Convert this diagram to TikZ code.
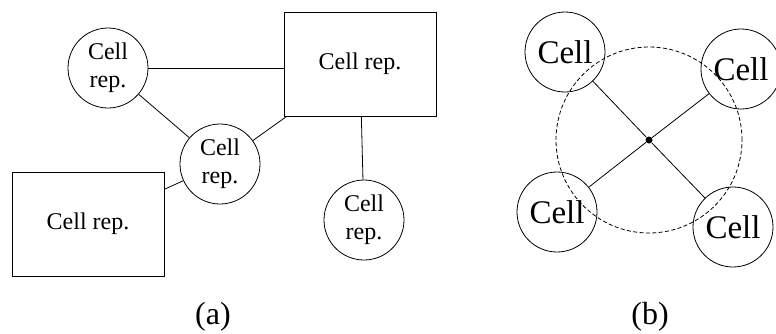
\documentclass[tikz,border=0pt]{standalone}
\usepackage{fontspec}
\setmainfont{Liberation Serif}
\begin{document}
\begin{tikzpicture}[x=0.5pt,y=-0.5pt,
  cellrep/.style={draw,circle,minimum size=40pt,inner sep=0pt,align=center,font=\fontsize{12}{14.2}\selectfont},
  cellbox/.style={draw,rectangle,minimum width=76pt,minimum height=52pt,font=\fontsize{12}{14.2}\selectfont},
  cell/.style={draw,circle,minimum size=40pt,inner sep=0pt,font=\fontsize{16.5}{20}\selectfont},
  caption/.style={font=\fontsize{16}{19}\selectfont}]
\useasboundingbox (0,0) rectangle (776,333);

% Draw part (a): representatives and their links
\node[cellrep] (repa) at (108,68) {Cell\\rep.};
\node[cellbox] (boxa) at (360,64) {Cell rep.};
\node[cellrep] (repb) at (220,164) {Cell\\rep.};
\node[cellbox] (boxb) at (88,224) {Cell rep.};
\node[cellrep] (repc) at (364,220) {Cell\\rep.};

\draw (repa.east) -- (repa.east -| boxa.west);
\draw (repa) -- (repb);
\draw (repb) -- (boxa);
\draw (repb) -- (boxb);
\draw (boxa) -- (repc);

% Draw part (b): cells round a common centre
\node[circle,fill,inner sep=0pt,minimum size=3.5pt] (hub) at (649,140) {};
\draw[dash pattern=on 2pt off 1.2pt] (hub.center) circle (46.5pt);

\node[cell] (nw) at (565,52) {Cell};
\node[cell] (ne) at (741,69) {Cell};
\node[cell] (sw) at (557,212) {Cell};
\node[cell] (se) at (733,227) {Cell};

\foreach \c in {nw,ne,sw,se} {
   \draw (hub) -- (\c);
}

% Captions
\node[caption] (capa) at (213,317) {(a)};
\node[caption] (capb) at (650,317) {(b)};

\end{tikzpicture}
\end{document}
